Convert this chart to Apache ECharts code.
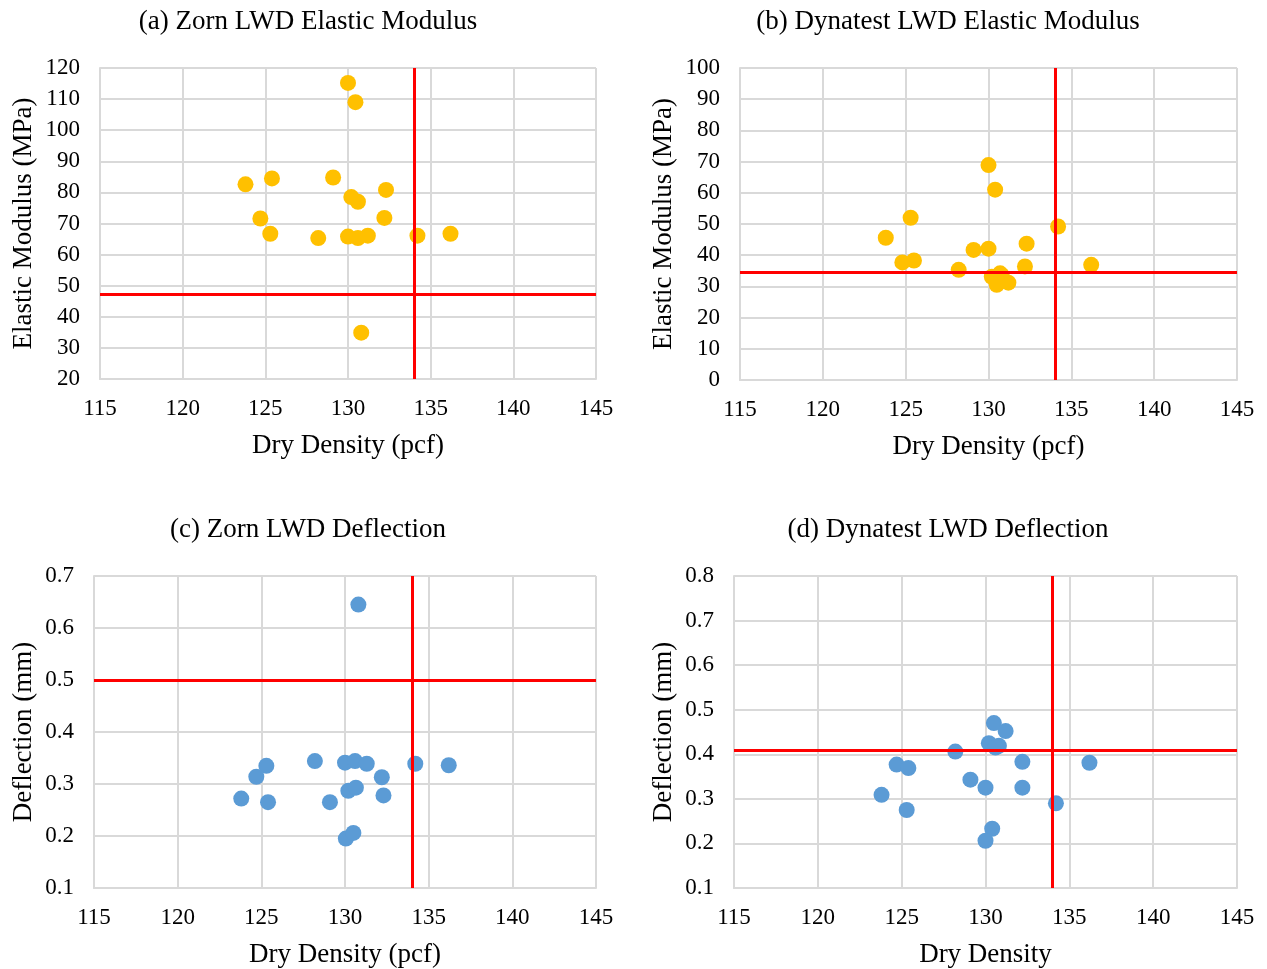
<!DOCTYPE html>
<html>
<head>
<meta charset="utf-8">
<title>LWD vs Dry Density</title>
<script src="https://cdn.jsdelivr.net/npm/echarts@6/dist/echarts.min.js"></script>
<style>
  html, body { margin: 0; padding: 0; background: #fff; }
  #chart { width: 1267px; height: 969px; }
</style>
</head>
<body>
<div id="chart"></div>
<script>
// [dry density (pcf), value] for every test point
const zornModulus = [
  [130.0, 115.2], [130.45, 109.0], [123.8, 82.6], [125.4, 84.5], [129.1, 84.8], [132.3, 80.8],
  [130.2, 78.5], [130.6, 77.0], [124.7, 71.6], [132.2, 71.8], [125.3, 66.7], [128.2, 65.3],
  [130.0, 65.8], [130.6, 65.3], [131.2, 66.1], [134.2, 66.1], [136.2, 66.7], [130.8, 34.9]
];
const dynatestModulus = [
  [130.0, 68.9], [130.4, 61.0], [125.3, 52.0], [134.2, 49.2], [123.8, 45.6], [132.3, 43.7],
  [129.1, 41.7], [130.0, 42.1], [124.8, 37.7], [125.5, 38.3], [136.2, 36.9], [132.2, 36.4],
  [128.2, 35.3], [130.2, 33.1], [130.7, 34.2], [130.5, 30.5], [131.2, 31.2], [130.8, 33.6]
];
const zornDeflection = [
  [130.8, 0.645], [125.3, 0.335], [124.7, 0.314], [123.8, 0.272], [125.4, 0.265], [128.2, 0.344],
  [129.1, 0.265], [130.0, 0.341], [130.6, 0.344], [131.3, 0.339], [134.2, 0.339], [136.2, 0.336],
  [132.2, 0.313], [132.3, 0.278], [130.2, 0.287], [130.65, 0.293], [130.05, 0.195], [130.5, 0.206]
];
const dynatestDeflection = [
  [130.5, 0.470], [131.2, 0.452], [130.2, 0.425], [130.8, 0.419], [130.6, 0.415], [128.2, 0.406],
  [124.7, 0.377], [125.4, 0.369], [132.2, 0.383], [136.2, 0.381], [129.1, 0.343], [130.0, 0.325],
  [132.2, 0.325], [123.8, 0.309], [125.3, 0.275], [134.2, 0.290], [130.4, 0.233], [130.0, 0.206]
];

// red reference lines [dry density, value]
const refLines = [[134, 47.1], [134, 34.5], [134, 0.5], [134, 0.408]];

const titles = [
  '(a) Zorn LWD Elastic Modulus',
  '(b) Dynatest LWD Elastic Modulus',
  '(c) Zorn LWD Deflection',
  '(d) Dynatest LWD Deflection'
];
const xNames = ['Dry Density (pcf)', 'Dry Density (pcf)', 'Dry Density (pcf)', 'Dry Density'];
const yNames = ['Elastic Modulus (MPa)', 'Elastic Modulus (MPa)', 'Deflection (mm)', 'Deflection (mm)'];
const xRange = [115, 145, 5];
const yRanges = [[20, 120, 10], [0, 100, 10], [0.1, 0.7, 0.1], [0.1, 0.8, 0.1]];

const panels = [
  { data: zornModulus, color: '#FFC000', grid: { left: 100, top: 68, width: 496, height: 311 }, titleX: 308, titleY: 8, yGap: 63 },
  { data: dynatestModulus, color: '#FFC000', grid: { left: 740, top: 68, width: 497, height: 312 }, titleX: 948, titleY: 8, yGap: 63 },
  { data: zornDeflection, color: '#5B9BD5', grid: { left: 94, top: 576, width: 502, height: 312 }, titleX: 308, titleY: 516, yGap: 57 },
  { data: dynatestDeflection, color: '#5B9BD5', grid: { left: 734, top: 576, width: 503, height: 312 }, titleX: 948, titleY: 516, yGap: 57 }
];

const font = '"Liberation Serif", "Times New Roman", serif';
const gridColor = '#d9d9d9';

const option = {
  animation: false,
  backgroundColor: '#fff',
  title: [],
  grid: [],
  xAxis: [],
  yAxis: [],
  series: []
};

panels.forEach((p, i) => {
  option.title.push({
    text: titles[i],
    left: p.titleX,
    top: p.titleY,
    textAlign: 'center',
    padding: 0,
    textStyle: { fontFamily: font, fontSize: 27, fontWeight: 'normal', color: '#000' }
  });
  option.grid.push(p.grid);
  option.xAxis.push({
    type: 'value',
    gridIndex: i,
    min: xRange[0],
    max: xRange[1],
    interval: xRange[2],
    name: xNames[i],
    nameLocation: 'middle',
    nameGap: 53,
    nameTextStyle: { fontFamily: font, fontSize: 27, color: '#000' },
    axisLine: { show: true, lineStyle: { color: gridColor, width: 2 } },
    axisTick: { show: false },
    axisLabel: { fontFamily: font, fontSize: 23, color: '#000', margin: 18 },
    splitLine: { show: true, lineStyle: { color: gridColor, width: 2 } }
  });
  option.yAxis.push({
    type: 'value',
    gridIndex: i,
    min: yRanges[i][0],
    max: yRanges[i][1],
    interval: yRanges[i][2],
    name: yNames[i],
    nameLocation: 'middle',
    nameGap: p.yGap,
    nameTextStyle: { fontFamily: font, fontSize: 27, color: '#000' },
    axisLine: { show: true, lineStyle: { color: gridColor, width: 2 } },
    axisTick: { show: false },
    axisLabel: { fontFamily: font, fontSize: 23, color: '#000', margin: 20 },
    splitLine: { show: true, lineStyle: { color: gridColor, width: 2 } }
  });
  // reference lines, drawn under the points
  option.series.push({
    type: 'scatter',
    xAxisIndex: i,
    yAxisIndex: i,
    data: [],
    z: 1,
    silent: true,
    markLine: {
      silent: true,
      symbol: 'none',
      label: { show: false },
      lineStyle: { color: '#FF0000', width: 3, type: 'solid' },
      data: [{ xAxis: refLines[i][0] }, { yAxis: refLines[i][1] }]
    }
  });
  option.series.push({
    type: 'scatter',
    xAxisIndex: i,
    yAxisIndex: i,
    z: 3,
    symbolSize: 16,
    itemStyle: { color: p.color, opacity: 1 },
    data: p.data
  });
});

const myChart = echarts.init(document.getElementById('chart'));
myChart.setOption(option);
window.addEventListener('resize', myChart.resize);
</script>
</body>
</html>
